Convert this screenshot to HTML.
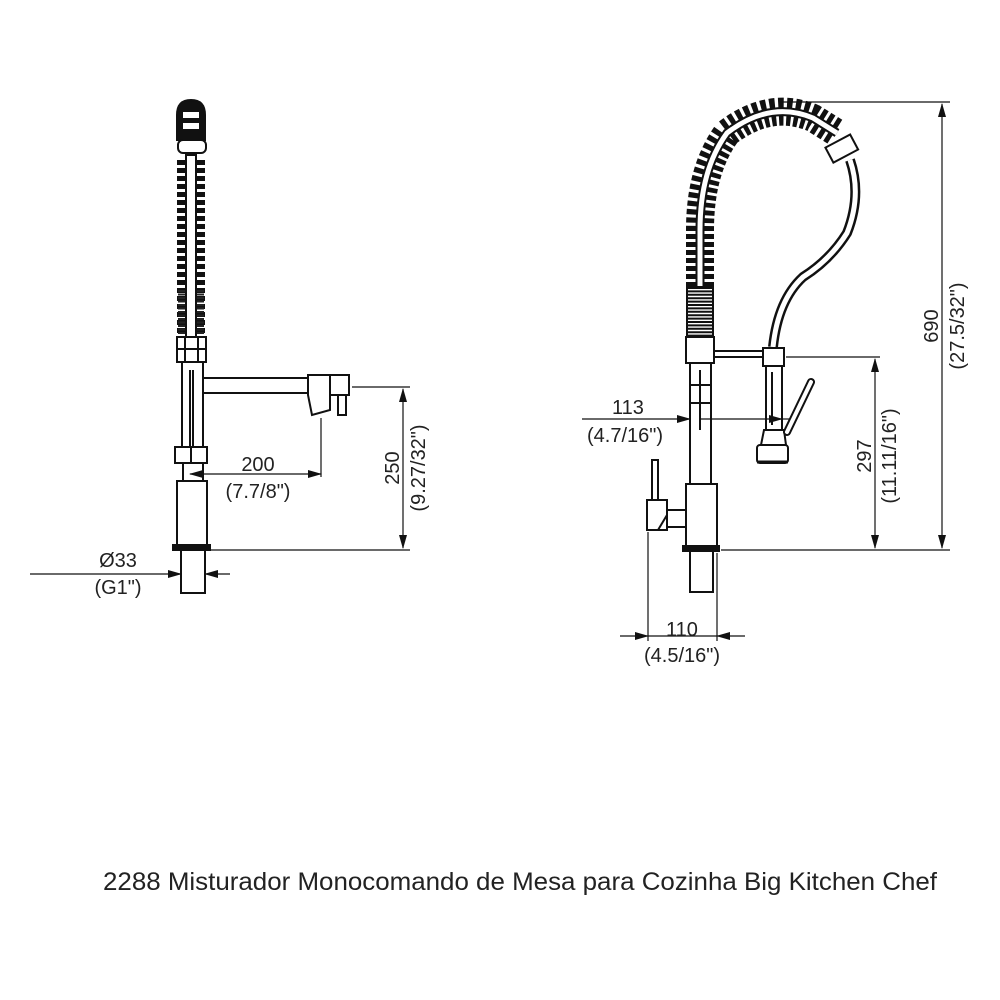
<!DOCTYPE html>
<html><head><meta charset="utf-8"><style>
html,body{margin:0;padding:0;background:#fff;}
svg{display:block;}
text{font-family:"Liberation Sans",Arial,sans-serif;fill:#222;}
</style></head><body>
<svg width="1000" height="1000" viewBox="0 0 1000 1000" xmlns="http://www.w3.org/2000/svg">
<defs>
<marker id="ar" markerWidth="14" markerHeight="8" refX="13" refY="4" orient="auto-start-reverse" markerUnits="userSpaceOnUse">
<path d="M0,0 L14,4 L0,8 Z" fill="#111"/></marker>
</defs>
<g stroke="#111" stroke-width="2" fill="#fff">
<!-- LEFT FAUCET -->
<line x1="191" y1="160" x2="191" y2="335" stroke="#111" stroke-width="28" stroke-dasharray="5 3"/>
<line x1="191" y1="290" x2="191" y2="335" stroke="#222" stroke-width="26" stroke-dasharray="2 1.5"/>
<rect x="186" y="155" width="10" height="185" fill="#fff" stroke-width="2"/>
<path d="M177,140 L177,115 Q177,100 191,100 Q205,100 205,115 L205,140 Z" fill="#111"/>
<rect x="183" y="112" width="16" height="6" fill="#fff" stroke="none"/>
<rect x="183" y="123" width="16" height="6" fill="#fff" stroke="none"/>
<rect x="178" y="140" width="28" height="13" rx="5"/>
<rect x="177" y="337" width="29" height="25"/>
<line x1="185" y1="337" x2="185" y2="362"/><line x1="198" y1="337" x2="198" y2="362"/>
<line x1="177" y1="349" x2="206" y2="349"/>
<rect x="182" y="362" width="21" height="85"/>
<line x1="190" y1="370" x2="190" y2="480"/><line x1="193" y1="370" x2="193" y2="480"/>
<rect x="203" y="378" width="106" height="15"/>
<path d="M308,375 L330,375 L330,410 L312,415 L308,395 Z"/>
<rect x="330" y="375" width="19" height="20"/>
<rect x="338" y="395" width="8" height="20"/>
<rect x="175" y="447" width="32" height="16"/>
<line x1="191" y1="447" x2="191" y2="463"/>
<rect x="183" y="463" width="20" height="18"/>
<rect x="177" y="481" width="30" height="64"/>
<rect x="173" y="545" width="37" height="5" fill="#111"/>
<rect x="181" y="550" width="24" height="43"/>

<!-- RIGHT FAUCET -->
<path d="M700,287 L700,230 Q700,170 727,133 Q770,100 813,118 L837,133" fill="none" stroke="#111" stroke-width="28" stroke-dasharray="5 3"/>
<path d="M700,287 L700,230 Q700,170 727,133 Q770,100 813,118 L837,133" fill="none" stroke="#111" stroke-width="9"/>
<path d="M700,287 L700,230 Q700,170 727,133 Q770,100 813,118 L837,133" fill="none" stroke="#fff" stroke-width="5"/>
<rect x="828" y="140" width="28" height="17" transform="rotate(-28 842 149)"/>
<path d="M850,160 Q862,195 847,233 Q830,260 803,277 Q778,300 773,347" fill="none" stroke="#111" stroke-width="10"/>
<path d="M850,160 Q862,195 847,233 Q830,260 803,277 Q778,300 773,347" fill="none" stroke="#fff" stroke-width="5"/>
<rect x="687" y="287" width="26" height="50" fill="#fff"/>
<line x1="700" y1="287" x2="700" y2="337" stroke="#111" stroke-width="26" stroke-dasharray="2 1.4"/>
<rect x="686" y="337" width="28" height="26"/>
<rect x="690" y="363" width="21" height="122"/>
<line x1="700" y1="370" x2="700" y2="430"/>
<line x1="690" y1="385" x2="711" y2="385"/><line x1="690" y1="403" x2="711" y2="403"/>
<rect x="714" y="351" width="49" height="6"/>
<rect x="763" y="348" width="21" height="18"/>
<rect x="766" y="366" width="16" height="64"/>
<line x1="772" y1="372" x2="772" y2="425"/>
<path d="M764,430 L784,430 L786,445 L761,445 Z"/>
<rect x="757" y="445" width="31" height="18" rx="3"/>
<line x1="757" y1="462" x2="788" y2="462" stroke-width="3"/>
<line x1="787" y1="432" x2="811" y2="382" stroke-width="8" stroke-linecap="round"/>
<line x1="787" y1="432" x2="811" y2="382" stroke="#fff" stroke-width="4" stroke-linecap="round"/>
<rect x="686" y="484" width="31" height="62"/>
<rect x="667" y="510" width="19" height="17"/>
<rect x="647" y="500" width="20" height="30"/>
<line x1="667" y1="515" x2="658" y2="530"/>
<rect x="652" y="460" width="6" height="40"/>
<rect x="683" y="546" width="36" height="5" fill="#111"/>
<rect x="690" y="551" width="23" height="41"/>
</g>

<g stroke="#111" stroke-width="1.2" fill="none">
<line x1="352" y1="387" x2="410" y2="387"/>
<line x1="210" y1="550" x2="410" y2="550"/>
<line x1="403" y1="389" x2="403" y2="548" marker-start="url(#ar)" marker-end="url(#ar)"/>
<line x1="321" y1="418" x2="321" y2="477"/>
<line x1="190" y1="474" x2="321" y2="474" marker-start="url(#ar)" marker-end="url(#ar)"/>
<line x1="30" y1="574" x2="181" y2="574" marker-end="url(#ar)"/>
<line x1="230" y1="574" x2="205" y2="574" marker-end="url(#ar)"/>
<line x1="582" y1="419" x2="690" y2="419" marker-end="url(#ar)"/>
<line x1="790" y1="419" x2="782" y2="419"/>
<line x1="700" y1="419" x2="782" y2="419" marker-end="url(#ar)"/>
<line x1="648" y1="532" x2="648" y2="641"/>
<line x1="717" y1="553" x2="717" y2="641"/>
<line x1="620" y1="636" x2="648" y2="636" marker-end="url(#ar)"/>
<line x1="745" y1="636" x2="717" y2="636" marker-end="url(#ar)"/>
<line x1="648" y1="636" x2="717" y2="636"/>
<line x1="786" y1="357" x2="880" y2="357"/>
<line x1="721" y1="550" x2="950" y2="550"/>
<line x1="875" y1="359" x2="875" y2="548" marker-start="url(#ar)" marker-end="url(#ar)"/>
<line x1="780" y1="102" x2="950" y2="102"/>
<line x1="942" y1="104" x2="942" y2="548" marker-start="url(#ar)" marker-end="url(#ar)"/>
</g>

<g font-size="20" text-anchor="middle">
<text x="258" y="471">200</text>
<text x="258" y="498">(7.7/8")</text>
<text x="118" y="567">Ø33</text>
<text x="118" y="594">(G1")</text>
<text x="628" y="414">113</text>
<text x="625" y="442">(4.7/16")</text>
<text x="682" y="636">110</text>
<text x="682" y="662">(4.5/16")</text>
<text transform="translate(399,468) rotate(-90)">250</text>
<text transform="translate(425,468) rotate(-90)">(9.27/32")</text>
<text transform="translate(871,456) rotate(-90)">297</text>
<text transform="translate(896,456) rotate(-90)">(11.11/16")</text>
<text transform="translate(938,326) rotate(-90)">690</text>
<text transform="translate(964,326) rotate(-90)">(27.5/32")</text>
</g>
<text x="103" y="890" font-size="25" textLength="834" lengthAdjust="spacingAndGlyphs">2288 Misturador Monocomando de Mesa para Cozinha Big Kitchen Chef</text>
</svg>
</body></html>
